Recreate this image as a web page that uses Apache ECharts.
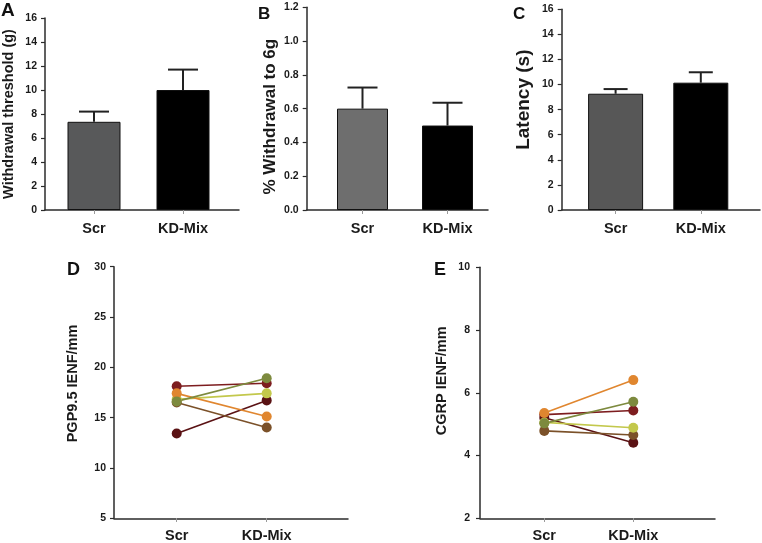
<!DOCTYPE html>
<html><head><meta charset="utf-8">
<script src="https://cdn.jsdelivr.net/npm/echarts@6/dist/echarts.min.js"></script>
<style>html,body{margin:0;padding:0;background:#fff}#c{width:762px;height:543px}</style>
</head><body><div id="c"></div>
<script>
// ---- data ----
const categories = ['Scr', 'KD-Mix'];
const panelLabels = ['A', 'B', 'C', 'D', 'E'];
const yNames = ['Withdrawal threshold (g)', '% Withdrawal to 6g', 'Latency (s)', 'PGP9.5 IENF/mm', 'CGRP IENF/mm'];
const thresholdMean = [7.35, 10.0];
const thresholdSem = [0.85, 1.7];
const withdrawalMean = [0.60, 0.50];
const withdrawalSem = [0.125, 0.135];
const latencyMean = [9.27, 10.15];
const latencySem = [0.37, 0.83];
const pgpScr = [18.1, 17.4, 16.6, 16.8, 16.5, 13.4];
const pgpKD = [18.4, 15.1, 18.9, 17.4, 14.0, 16.7];
const cgrpScr = [5.30, 5.35, 5.02, 5.05, 4.78, 5.20];
const cgrpKD = [5.43, 6.40, 5.71, 4.88, 4.65, 4.40];
// subjects: dark red, orange, olive, lime, brown, maroon
const subjectColors = ['#7d1d1f', '#e0862f', '#7d8a3e', '#c3c84c', '#7b5129', '#5a1214'];
const subjectOrder = [0, 5, 4, 3, 1, 2];

const FONT = "'Liberation Sans', Arial, sans-serif";
const chart = echarts.init(document.getElementById('c'));

// panel layouts: frame (axis lines) and data (category placement)
const panels = [
  {frame: {left: 41.5, top: 18, width: 197.5, height: 192}, data: {left: 49.5, width: 178},
   min: 0, max: 16, interval: 2, dec: 0, nameGap: 29, nameSize: 14.5, shift: 0, margin: 8},
  {frame: {left: 306.7, top: 7.3, width: 181.3, height: 202.7}, data: {left: 320, width: 170},
   min: 0, max: 1.2, interval: 0.2, dec: 1, nameGap: 28, nameSize: 17, shift: -8, margin: 8},
  {frame: {left: 561.7, top: 9.3, width: 198.3, height: 200.7}, data: {left: 573, width: 170.4},
   min: 0, max: 16, interval: 2, dec: 0, nameGap: 28, nameSize: 19, shift: 10, margin: 8},
  {frame: {left: 114, top: 266.7, width: 234, height: 251.6}, data: {left: 131.7, width: 180},
   min: 5, max: 30, interval: 5, dec: 0, nameGap: 34, nameSize: 14.5, shift: 9, margin: 8},
  {frame: {left: 480, top: 267.3, width: 235, height: 251}, data: {left: 499.8, width: 178},
   min: 2, max: 10, interval: 2, dec: 0, nameGap: 31, nameSize: 14.5, shift: 12, margin: 10}
];

const grid = [], xAxis = [], yAxis = [], series = [];
panels.forEach((p, k) => {
  const fi = grid.length;
  grid.push({left: p.frame.left, top: p.frame.top, width: p.frame.width, height: p.frame.height, containLabel: false});
  grid.push({left: p.data.left, top: p.frame.top, width: p.data.width, height: p.frame.height, containLabel: false});
  const pad = p.shift >= 0 ? [0, 0, 0, 2 * p.shift] : [0, -2 * p.shift, 0, 0];
  // frame axes
  xAxis.push({gridIndex: fi, type: 'value', min: 0, max: 1, axisLine: {show: true, lineStyle: {color: '#2b2b2b', width: 1.5}},
    axisTick: {show: false}, axisLabel: {show: false}, splitLine: {show: false}});
  yAxis.push({gridIndex: fi, type: 'value', min: p.min, max: p.max, interval: p.interval,
    name: yNames[k], nameLocation: 'middle', nameGap: p.nameGap, nameRotate: 90,
    nameTextStyle: {fontFamily: FONT, fontWeight: 'bold', fontSize: p.nameSize, color: '#1a1a1a', padding: pad},
    axisLine: {show: true, lineStyle: {color: '#2b2b2b', width: 1.5}},
    axisTick: {show: true, length: 4, lineStyle: {color: '#2b2b2b', width: 1.2}},
    axisLabel: {fontFamily: FONT, fontWeight: 'bold', fontSize: 10.5, color: '#1a1a1a', margin: p.margin,
      formatter: v => v.toFixed(p.dec)},
    splitLine: {show: false}});
  // data axes
  xAxis.push({gridIndex: fi + 1, type: 'category', data: categories,
    axisLine: {show: false}, axisTick: {show: true, alignWithLabel: true, length: 4, lineStyle: {color: '#9a9a9a'}},
    axisLabel: {fontFamily: FONT, fontWeight: 'bold', fontSize: 14.5, color: '#1a1a1a', margin: k < 3 ? 11 : 10}});
  yAxis.push({gridIndex: fi + 1, type: 'value', min: p.min, max: p.max, interval: p.interval, show: false});
});

function errorBars(axisIdx, means, sems, capW) {
  return {
    type: 'custom', xAxisIndex: axisIdx, yAxisIndex: axisIdx, z: 1, silent: true,
    data: means.map((m, i) => [categories[i], m, m + sems[i]]),
    renderItem: (params, api) => {
      const b = api.coord([api.value(0), api.value(1)]);
      const t = api.coord([api.value(0), api.value(2)]);
      const st = {stroke: '#222', lineWidth: 2};
      return {type: 'group', children: [
        {type: 'line', shape: {x1: b[0], y1: b[1], x2: t[0], y2: t[1]}, style: st},
        {type: 'line', shape: {x1: t[0] - capW / 2, y1: t[1], x2: t[0] + capW / 2, y2: t[1]}, style: st}
      ]};
    }
  };
}
function bars(axisIdx, means, scrColor, width) {
  return {
    type: 'bar', xAxisIndex: axisIdx, yAxisIndex: axisIdx, barWidth: width, z: 2,
    data: means.map((m, i) => ({value: m, itemStyle: {color: i === 0 ? scrColor : '#000',
      borderColor: '#111', borderWidth: 1}}))
  };
}
series.push(errorBars(1, thresholdMean, thresholdSem, 30), bars(1, thresholdMean, '#58595a', 53));
series.push(errorBars(3, withdrawalMean, withdrawalSem, 30), bars(3, withdrawalMean, '#6e6e6e', 51));
series.push(errorBars(5, latencyMean, latencySem, 24), bars(5, latencyMean, '#575757', 55));

function pairedLines(axisIdx, before, after) {
  subjectOrder.forEach(s => {
    series.push({
      type: 'line', xAxisIndex: axisIdx, yAxisIndex: axisIdx,
      data: [before[s], after[s]], symbol: 'circle', symbolSize: 10, showSymbol: true,
      lineStyle: {color: subjectColors[s], width: 1.6},
      itemStyle: {color: subjectColors[s]}, silent: true
    });
  });
}
pairedLines(7, pgpScr, pgpKD);
pairedLines(9, cgrpScr, cgrpKD);

const labelPos = [[1, 1, 19], [258, 6, 17], [513, 6, 17], [67, 261, 18], [434, 261, 18]];
const title = panelLabels.map((t, i) => ({
  text: t, left: labelPos[i][0], top: labelPos[i][1], padding: 0,
  textStyle: {fontFamily: FONT, fontWeight: 'bold', fontSize: labelPos[i][2], color: '#111'}
}));

chart.setOption({animation: false, backgroundColor: '#fff', title, grid, xAxis, yAxis, series});
</script></body></html>
